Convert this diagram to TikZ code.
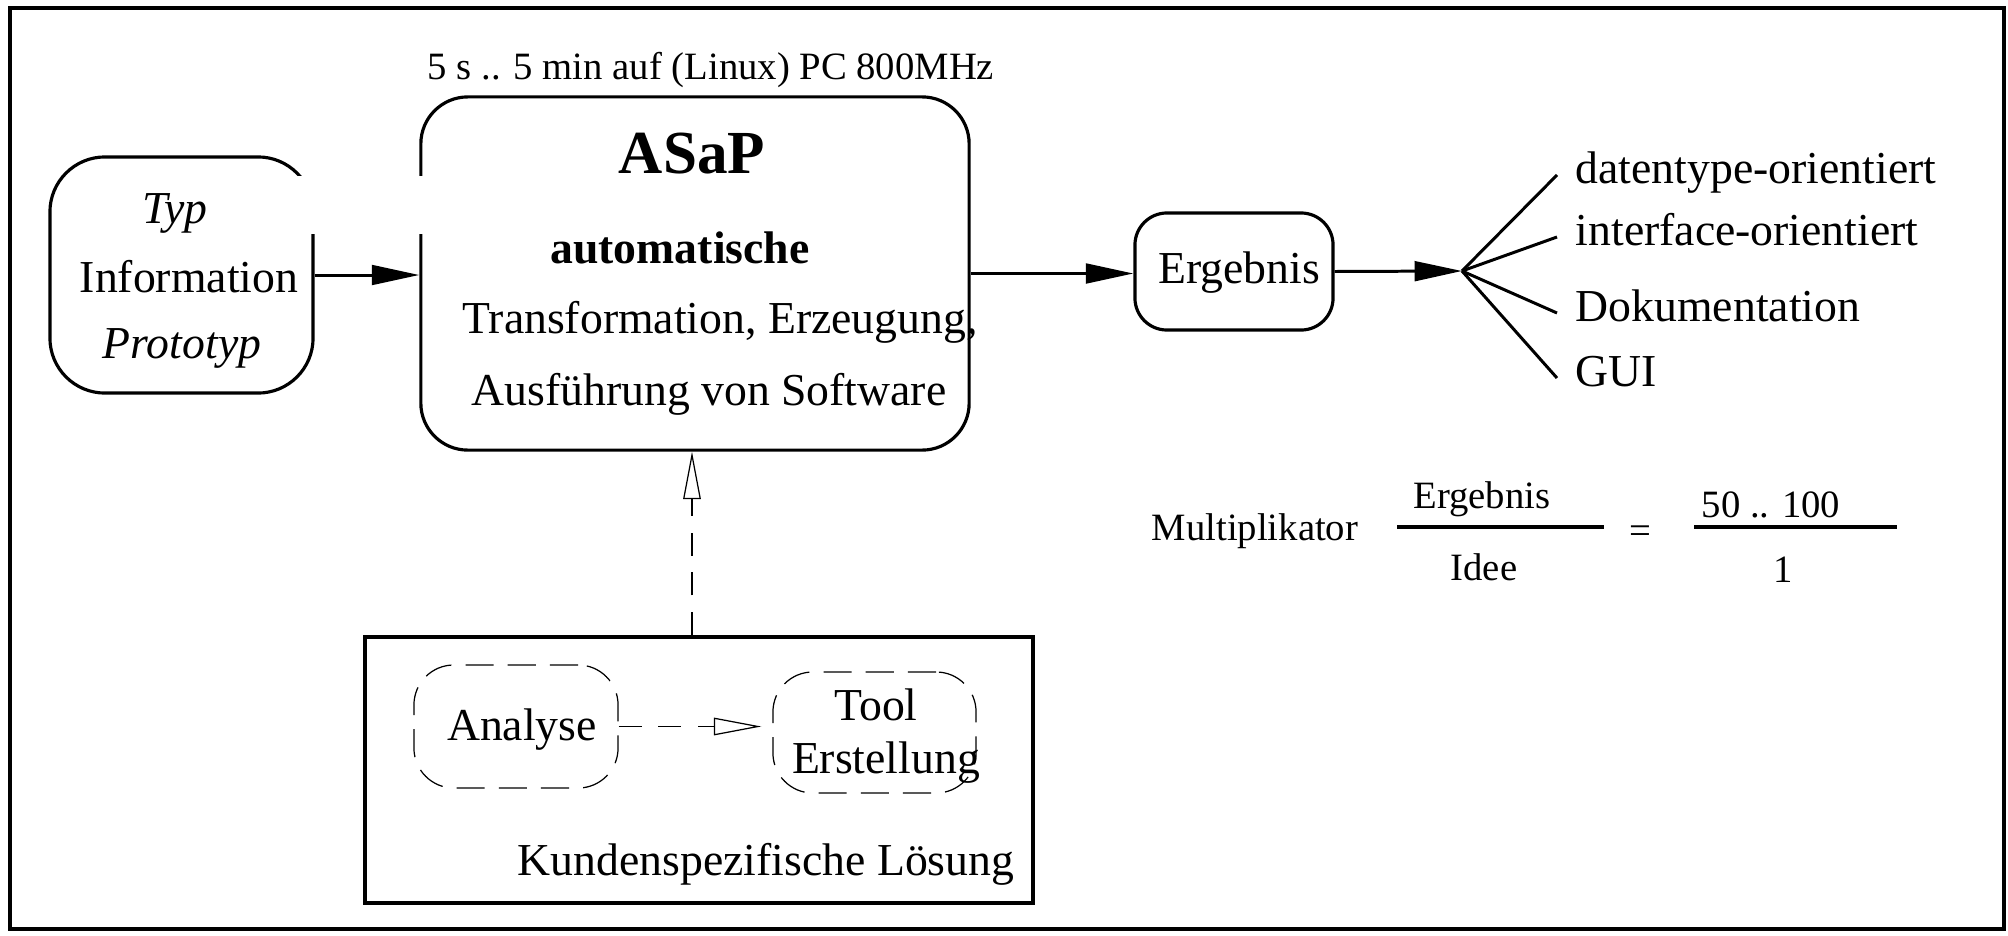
\documentclass[tikz,border=0pt]{standalone}
\usepackage{fontspec}
\setmainfont{Liberation Serif}
\usetikzlibrary{arrows.meta}
\tikzset{
  box/.style={draw, line width=0.9pt, inner sep=0pt},
  dbox/.style={draw, line width=0.35pt, dash pattern=on 8pt off 4pt, rounded corners=0.4cm, inner sep=0pt},
  txt/.style={font=\fontsize{13}{15}\selectfont, inner sep=0pt, anchor=base},
  sml/.style={font=\fontsize{11}{13}\selectfont, inner sep=0pt, anchor=base},
  lbl/.style={font=\fontsize{13}{15}\selectfont, anchor=west, inner ysep=0pt, inner xsep=0.18cm, text height=0.7em, text depth=0.22em},
  heavy/.style={line width=0.85pt, -{Triangle[length=13.5pt,width=5.6pt]}},
  light/.style={line width=0.35pt, dash pattern=on 6.5pt off 4.8pt, -{Triangle[open,length=13.5pt,width=5pt]}},
  plain/.style={line width=0.85pt}
}
\begin{document}
\begin{tikzpicture}[x=0.01cm,y=-0.01cm]
\useasboundingbox (0,0) rectangle (2008,936);
% outer frame
\draw[line width=0.9pt] (10,8) rectangle (2004,929);

% boxes
\node[box, rounded corners=0.55cm, minimum width=2.63cm, minimum height=2.36cm] (info) at (181.5,275) {};
\node[box, rounded corners=0.47cm, minimum width=5.48cm, minimum height=3.53cm] (asap) at (695,273.5) {};
\node[box, rounded corners=0.32cm, minimum width=1.98cm, minimum height=1.17cm] (erg) at (1234,271.5) {};
\node[draw, line width=1.1pt, inner sep=0pt, minimum width=6.68cm, minimum height=2.66cm] (kunden) at (699,770) {};
\node[dbox, minimum width=2.04cm, minimum height=1.23cm] (analyse) at (516,726.5) {};
\node[dbox, minimum width=2.03cm, minimum height=1.21cm] (tool) at (874.5,732.5) {};

% gap in the two box outlines
\fill[white] (297,176) rectangle (426,234);

% texts of the left box
\node[txt, font=\fontsize{13}{15}\selectfont\itshape] (ttyp) at (175,223) {Typ};
\node[txt] (tinfo) at (189,292) {Information};
\node[txt, font=\fontsize{13}{15}\selectfont\itshape] (tproto) at (182,358) {Prototyp};

% texts of the ASaP box
\node[sml] (ttime) at (711,79) {5 s .. 5 min auf (Linux) PC 800MHz};
\node[txt, font=\fontsize{17.4}{20}\selectfont\bfseries] (tasap) at (692,173) {ASaP};
\node[txt, font=\fontsize{13}{15}\selectfont\bfseries] (tauto) at (680,263) {automatische};
\node[txt] (ttrans) at (720,333) {Transformation, Erzeugung,};
\node[txt] (tausf) at (709,405) {Ausführung von Software};

% Ergebnis
\node[txt] (terg) at (1239,283) {Ergebnis};

% fan
\coordinate (fan) at (1462,271);
\node[lbl] (l1) at (1557,175) {datentype-orientiert};
\node[lbl] (l2) at (1557,237) {interface-orientiert};
\node[lbl] (l3) at (1557,313) {Dokumentation};
\node[lbl] (l4) at (1557,378) {GUI};

% connectors
\draw[heavy] (info.east) -- (info.east -| asap.west);
\draw[heavy] (asap.east) -- (asap.east -| erg.west);
\draw[heavy] (erg.east) -- (fan);
\draw[plain] (fan) -- (l1.west);
\draw[plain] (fan) -- (l2.west);
\draw[plain] (fan) -- (l3.west);
\draw[plain] (fan) -- (l4.west);
\draw[light] ([xshift=-0.07cm]kunden.north) -- ([xshift=-0.07cm]kunden.north |- asap.south);
\draw[light, shorten >=0.11cm] (analyse.east) -- (analyse.east -| tool.west);

% bottom texts
\node[txt] (tanal) at (522,740) {Analyse};
\node[txt] (ttool) at (876,720) {Tool};
\node[txt] (terst) at (886,773) {Erstellung};
\node[txt] (tkund) at (766,875) {Kundenspezifische Lösung};

% multiplier formula
\node[sml] (tmult) at (1255,540) {Multiplikator};
\node[sml] (tnum) at (1482,508) {Ergebnis};
\node[sml] (tden) at (1484,580) {Idee};
\draw[line width=1.1pt] (1397,527) -- (1604,527);
\node[sml] (teq) at (1640,543) {=};
\node[sml] (tnum2) at (1771,517) {50 .. 100};
\node[sml] (tden2) at (1783,582) {1};
\draw[line width=1.1pt] (1694,527) -- (1897,527);
\end{tikzpicture}
\end{document}
